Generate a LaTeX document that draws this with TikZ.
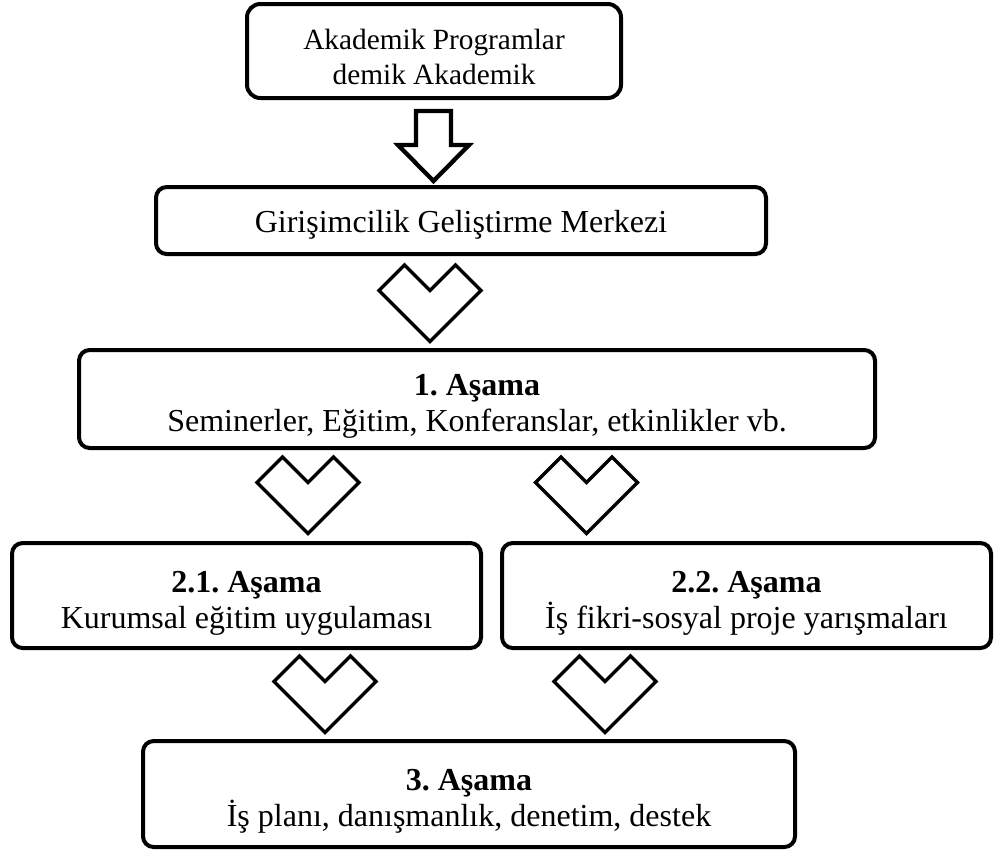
\documentclass[tikz,border=0pt]{standalone}
\usepackage{fontspec}
\setmainfont{Liberation Serif}
\usepackage{xcolor}
\definecolor{vblack}{HTML}{000000}
\frenchspacing
\newcommand{\ust}[1]{\rule{0pt}{#1}}

\tikzset{
	kutu/.style={draw=vblack, line width=1.5pt, rounded corners=4pt, align=center, inner sep=0pt, font=\fontsize{12}{13.5}\selectfont},
	kalp/.style={draw=vblack, line width=1.3pt, line join=miter},
	blok/.style={draw=vblack, line width=1.6pt, line join=miter},
	chev/.pic={\draw[kalp] (-51,25.5) -- (-25.5,0) -- (0,25.5) -- (25.5,0) -- (51,25.5) -- (0,76.5) -- cycle;}
}

\begin{document}
\begin{tikzpicture}[x=0.375pt, y=-0.375pt]
		\useasboundingbox (0,0) rectangle (996,852);
		\node[kutu, rounded corners=5pt, minimum width=140.25pt, minimum height=35.25pt, font=\fontsize{11}{13.3}\selectfont] (akademik) at (434,51) {\ust{12pt}Akademik Programlar\\demik Akademik};
		\node[kutu, minimum width=228.75pt, minimum height=25.125pt] (merkez) at (461,220.5) {\ust{11.8pt}Girişimcilik Geliştirme Merkezi};
		\node[kutu, minimum width=298.5pt, minimum height=36.75pt] (asama1) at (477,399) {\ust{13.8pt}\textbf{1. Aşama}\\Seminerler, Eğitim, Konferanslar, etkinlikler vb.};
		\node[kutu, minimum width=175.875pt, minimum height=39.375pt] (asama21) at (246.5,595.5) {\ust{13.5pt}\textbf{2.1. Aşama}\\Kurumsal eğitim uygulaması};
		\node[kutu, minimum width=183.375pt, minimum height=39.375pt] (asama22) at (746.5,595.5) {\ust{13.5pt}\textbf{2.2. Aşama}\\İş fikri-sosyal proje yarışmaları};
		\node[kutu, minimum width=244.5pt, minimum height=39.75pt] (asama3) at (469,794) {\ust{13.5pt}\textbf{3. Aşama}\\İş planı, danışmanlık, denetim, destek};
		% blok ok
		\draw[blok] (akademik.south) ++(-18,11) -- ++(35,0) -- ++(0,34) -- ++(18,0) -- ++(-35.5,36) -- ++(-35.5,-36) -- ++(18,0) -- cycle;
		% kalp oklar
		\pic at (430,265) {chev};
		\pic at (308,457) {chev};
		\pic at (586.5,457) {chev};
		\pic at (325,656) {chev};
		\pic at (605,656) {chev};
	\end{tikzpicture}
\end{document}
